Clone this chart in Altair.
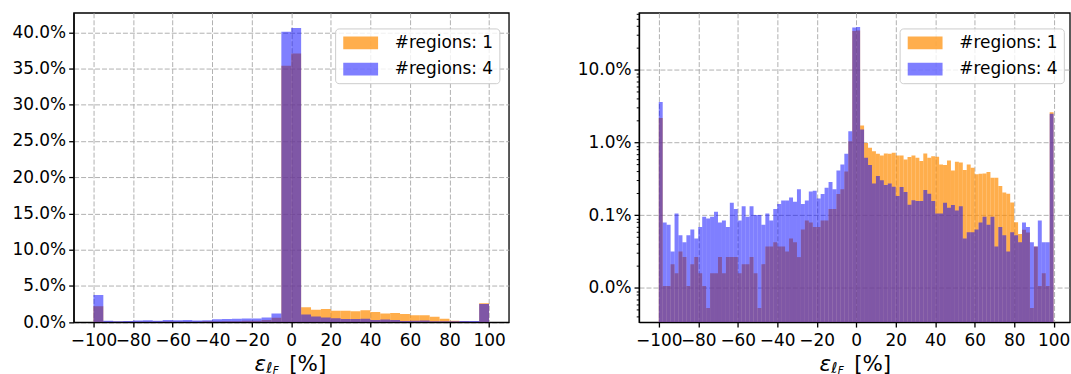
import altair as alt
import pandas as pd

SERIES = ["#regions: 1", "#regions: 4"]
ORANGE = "rgba(255,140,0,0.7)"
BLUE = "rgba(0,0,255,0.5)"

# ---- linear panel: 5-point bins from -100 to 100, share of cases in percent
lin_edges = list(range(-100, 101, 5))
lin_one = [2.2, 0.04, 0.06, 0.05, 0.03, 0.03, 0.06, 0.07, 0.05, 0.05,
           0.045, 0.10, 0.09, 0.11, 0.13, 0.19, 0.20, 0.29, 0.60, 35.4,
           37.1, 2.06, 1.71, 1.80, 1.56, 1.55, 1.50, 1.63, 1.39, 1.17,
           1.27, 1.10, 0.95, 0.93, 0.75, 0.47, 0.17, 0.08, 0.05, 2.6]
lin_four = [3.73, 0.175, 0.12, 0.14, 0.21, 0.25, 0.20, 0.30, 0.26, 0.28,
            0.23, 0.26, 0.38, 0.41, 0.45, 0.51, 0.48, 0.63, 1.2, 40.1,
            40.6, 1.06, 0.78, 0.64, 0.54, 0.42, 0.44, 0.46, 0.30, 0.34,
            0.28, 0.16, 0.19, 0.22, 0.13, 0.12, 0.13, 0.15, 0.14, 2.48]

# ---- log panel: 2-point bins from -100 to 100, share of cases in percent
log_edges = list(range(-100, 101, 2))
log_one = [2.18, 0.0106, 0.0106, 0.0212, 0.0159, 0.0317, 0.0265, 0.0106, 0.0212, 0.0265,
           0.0159, 0.0106, 0.0053, 0.0159, 0.0159, 0.0265, 0.0159, 0.0265, 0.0265, 0.0265,
           0.0159, 0.0212, 0.0212, 0.0265, 0.0159, 0.0053, 0.0212, 0.037, 0.037, 0.0423,
           0.037, 0.037, 0.0317, 0.0476, 0.0423, 0.0265, 0.0635, 0.0847, 0.0794, 0.0688,
           0.0688, 0.0847, 0.0847, 0.1217, 0.1217, 0.1958, 0.2275, 0.40, 1.04, 34.2,
           34.9, 1.71, 0.989, 0.845, 0.761, 0.699, 0.663, 0.706, 0.699, 0.722,
           0.663, 0.663, 0.585, 0.630, 0.663, 0.617, 0.555, 0.706, 0.617, 0.650,
           0.637, 0.500, 0.489, 0.566, 0.413, 0.543, 0.532, 0.418, 0.500, 0.450,
           0.365, 0.372, 0.376, 0.392, 0.328, 0.328, 0.252, 0.205, 0.198, 0.149,
           0.080, 0.055, 0.063, 0.058, 0.0053, 0.037, 0.0106, 0.0159, 0.0106, 2.61]
log_four = [3.61, 0.0794, 0.0741, 0.0317, 0.1058, 0.0529, 0.0423, 0.0529, 0.0635, 0.0476,
            0.0688, 0.0952, 0.09, 0.0952, 0.1111, 0.0794, 0.0847, 0.0688, 0.1481, 0.1217,
            0.0847, 0.1323, 0.0952, 0.1323, 0.1005, 0.1005, 0.0741, 0.1058, 0.0847, 0.1217,
            0.1429, 0.1587, 0.1587, 0.1746, 0.1534, 0.2275, 0.1429, 0.1587, 0.2116, 0.2169,
            0.1693, 0.1958, 0.2381, 0.2857, 0.2275, 0.4127, 0.4974, 0.6984, 1.43, 38.4,
            38.8, 1.51, 0.617, 0.489, 0.274, 0.346, 0.302, 0.261, 0.272, 0.247,
            0.184, 0.245, 0.209, 0.139, 0.160, 0.157, 0.157, 0.222, 0.198, 0.157,
            0.1058, 0.1058, 0.1481, 0.127, 0.1376, 0.1164, 0.1323, 0.0476, 0.0582, 0.0582,
            0.0635, 0.0794, 0.0952, 0.0741, 0.0952, 0.037, 0.0688, 0.0529, 0.0317, 0.0582,
            0.0529, 0.0423, 0.0794, 0.0688, 0.0423, 0.037, 0.0847, 0.0423, 0.0423, 2.49]

x_ticks = [-100, -80, -60, -40, -20, 0, 20, 40, 60, 80, 100]
lin_y_ticks = [0.0, 0.05, 0.10, 0.15, 0.20, 0.25, 0.30, 0.35, 0.40]
log_major = [1e-4, 1e-3, 1e-2, 1e-1]
log_minor = [m * 10.0 ** e for e in range(-5, 0) for m in range(2, 10)
             if 3.4e-5 < m * 10.0 ** e < 0.61]


def hist_table(edges, one, four):
    rows = []
    for name, vals in ((SERIES[0], one), (SERIES[1], four)):
        for i, v in enumerate(vals):
            rows.append({"start": edges[i], "end": edges[i + 1],
                         "share": v / 100.0, "series": name})
    return pd.DataFrame(rows)


lin_df = hist_table(lin_edges, lin_one, lin_four)
log_df = hist_table(log_edges, log_one, log_four)

W_L, W_R, H = 437.2, 432.8, 310.7
FONT = "DejaVu Sans"

# wide, flat patch: 35 x 12.7 px drawn from a 12.7 px symbol size
PATCH = "M-2.756,-1L2.756,-1L2.756,1L-2.756,1Z"
legend_opts = dict(
    orient="none", legendY=15.7, title=None,
    labelFont=FONT, labelFontSize=17, labelColor="black",
    symbolType=PATCH, symbolSize=161.3, symbolStrokeWidth=0,
    symbolOffset=11.15, labelOffset=25.85, rowPadding=8.3, padding=6,
    fillColor="rgba(255,255,255,0.8)", strokeColor="#cccccc", cornerRadius=3.5,
)

x_axis = alt.Axis(values=x_ticks, format="d", labelPadding=6)


def color_enc(legend_x):
    return alt.Color("series:N",
                     scale=alt.Scale(domain=SERIES, range=[ORANGE, BLUE]),
                     legend=alt.Legend(legendX=legend_x, **legend_opts))


def axis_title_layers():
    # epsilon with nested subscripts, then the unit, centred under x = 0
    one_row = pd.DataFrame({"k": [0]})
    base = alt.Chart(one_row)
    pieces = [
        ("ε", 21.5, "italic", -36.8, H + 49),
        ("ℓ", 15, "italic", -25.0, H + 51.2),
        ("F", 10.5, "italic", -18.6, H + 52.6),
        ("[%]", 21.5, "normal", -2.0, H + 49),
    ]
    layers = []
    for txt, size, style, dx, y in pieces:
        layers.append(
            base.mark_text(text=txt, font=FONT, fontSize=size, fontStyle=style,
                           align="left", baseline="alphabetic", dx=dx, color="black")
            .encode(x=alt.datum(0), y=alt.value(y))
        )
    return layers


left_bars = alt.Chart(lin_df).mark_rect(clip=True).encode(
    x=alt.X("start:Q", scale=alt.Scale(domain=[-110, 110], nice=False, zero=False), axis=x_axis),
    x2="end:Q",
    y=alt.Y("share:Q", scale=alt.Scale(domain=[0, 0.427], nice=False),
            axis=alt.Axis(values=lin_y_ticks, format=".1%")),
    y2=alt.datum(0),
    color=color_enc(262.7),
)

major_test = "abs(log(datum.value)/LN10 - round(log(datum.value)/LN10)) < 0.001"

right_bars = alt.Chart(log_df).mark_rect(clip=True).encode(
    x=alt.X("start:Q", scale=alt.Scale(domain=[-110, 108.2], nice=False, zero=False), axis=x_axis),
    x2="end:Q",
    y=alt.Y("share:Q",
            scale=alt.Scale(type="log", domain=[3.38e-5, 0.61], nice=False),
            axis=alt.Axis(values=log_major + log_minor,
                          labelExpr=f"({major_test}) ? format(datum.value, '.1%') : ''",
                          labelFontSize={"condition": {"test": major_test, "value": 17}, "value": 0},
                          tickSize={"condition": {"test": major_test, "value": 5}, "value": 2.8},
                          tickWidth={"condition": {"test": major_test, "value": 1.3}, "value": 1.0},
                          gridOpacity={"condition": {"test": major_test, "value": 1}, "value": 0})),
    y2=alt.value(H),
    color=color_enc(261.8),
)

left = alt.layer(left_bars, *axis_title_layers()).properties(width=W_L, height=H)
right = alt.layer(right_bars, *axis_title_layers()).properties(width=W_R, height=H)

chart = (
    alt.hconcat(left, right, spacing=67)
    .resolve_scale(color="independent")
    .resolve_legend(color="independent")
    .properties(padding={"left": 11, "top": 11, "right": 0, "bottom": 0}, background="white")
    .configure_view(stroke="black", strokeWidth=1.3)
    .configure_axis(
        labelFont=FONT, labelFontSize=17, labelColor="black",
        tickColor="black", tickWidth=1.3, tickSize=5,
        domainColor="black", domainWidth=1.3,
        gridColor="#b0b0b0", gridDash=[5, 2], gridWidth=1.0,
        labelPadding=3, labelOverlap=False, labelFlush=False,
        title=None, zindex=1,
    )
)

chart.save("out.html", embed_options={"renderer": "svg", "actions": False})
